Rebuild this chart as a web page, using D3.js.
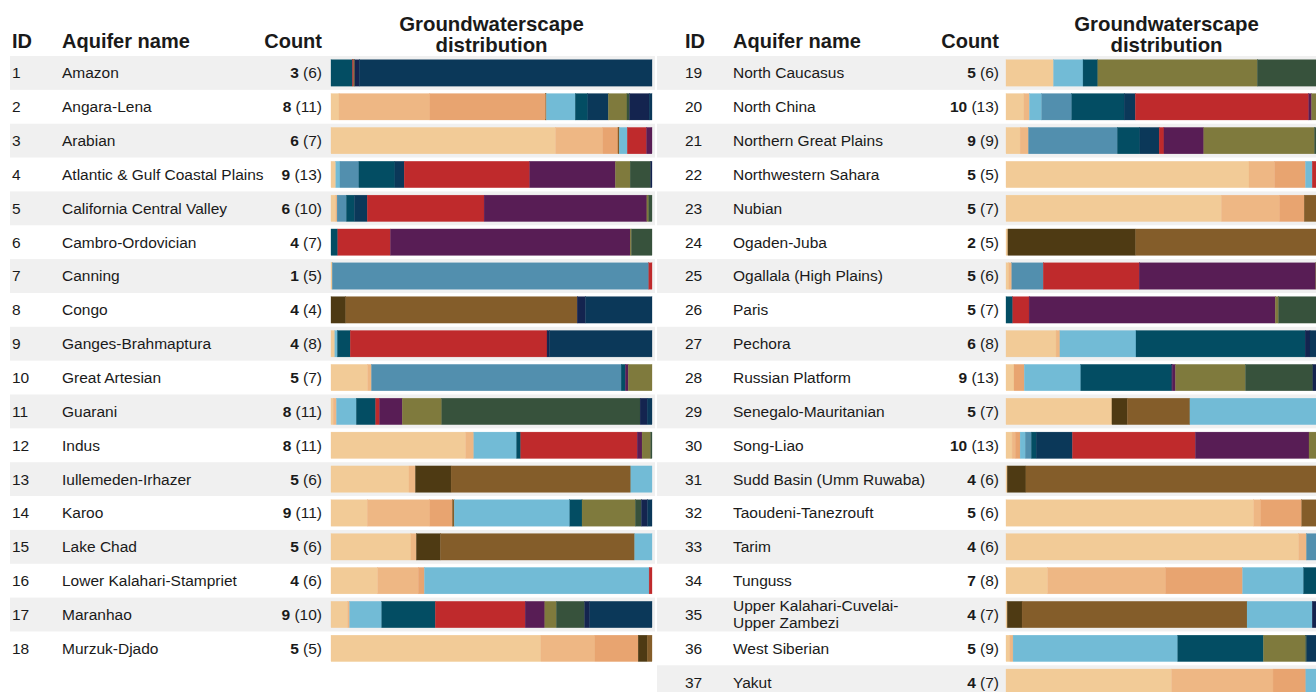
<!DOCTYPE html>
<html>
<head>
<meta charset="utf-8">
<script src="https://cdn.jsdelivr.net/npm/d3@7"></script>
<style>
  body { margin: 0; background: #fff; overflow: hidden; }
  text { font-family: "Liberation Sans", Arial, sans-serif; fill: #1a1a1a; }
</style>
</head>
<body>
<script>
// aquifer table
var aquiferIds = [1, 2, 3, 4, 5, 6, 7, 8, 9, 10, 11, 12, 13, 14, 15, 16, 17, 18,
                  19, 20, 21, 22, 23, 24, 25, 26, 27, 28, 29, 30, 31, 32, 33, 34, 35, 36, 37];

var aquiferNames = ["Amazon", "Angara-Lena", "Arabian", "Atlantic & Gulf Coastal Plains",
  "California Central Valley", "Cambro-Ordovician", "Canning", "Congo", "Ganges-Brahmaptura",
  "Great Artesian", "Guarani", "Indus", "Iullemeden-Irhazer", "Karoo", "Lake Chad",
  "Lower Kalahari-Stampriet", "Maranhao", "Murzuk-Djado", "North Caucasus", "North China",
  "Northern Great Plains", "Northwestern Sahara", "Nubian", "Ogaden-Juba", "Ogallala (High Plains)",
  "Paris", "Pechora", "Russian Platform", "Senegalo-Mauritanian", "Song-Liao",
  "Sudd Basin (Umm Ruwaba)", "Taoudeni-Tanezrouft", "Tarim", "Tunguss",
  "Upper Kalahari-Cuvelai-Upper Zambezi", "West Siberian", "Yakut"];

// bold count and total count (in brackets)
var mainCounts  = [3, 8, 6, 9, 6, 4, 1, 4, 4, 5, 8, 8, 5, 9, 5, 4, 9, 5,
                   5, 10, 9, 5, 5, 2, 5, 5, 6, 9, 5, 10, 4, 5, 4, 7, 4, 5, 4];
var totalCounts = [6, 11, 7, 13, 10, 7, 5, 4, 8, 7, 11, 11, 6, 11, 6, 6, 10, 5,
                   6, 13, 9, 5, 7, 5, 6, 7, 8, 13, 7, 13, 6, 6, 6, 8, 7, 9, 7];

// groundwaterscape classes
var gwsClasses = ["S", "LO", "O", "DB", "B", "LB", "SB", "T", "D", "R", "P", "OL", "G", "N"];
var gwsColors  = ["#f2cb97", "#eeb784", "#e8a470", "#4e3a13", "#845d2a", "#72bbd6", "#528fae",
                  "#034d63", "#0b3859", "#bf2a2c", "#581d55", "#7f7a3d", "#37523c", "#14244f"];

// share (%) of each groundwaterscape, in bar order
var distribution = [
  [["T",6.7],["R",0.4],["OL",0.3],["N",1.4],["D",91.2]],
  [["S",2.5],["LO",28.3],["O",36.1],["B",0.2],["LB",9.0],["T",3.9],["D",6.4],["OL",5.8],["G",0.8],["N",6.1],["D",0.9]],
  [["S",70.0],["LO",14.7],["O",4.7],["B",0.4],["LB",2.5],["R",6.0],["P",1.7]],
  [["S",1.5],["LB",1.3],["SB",5.9],["T",11.2],["D",2.9],["R",39.1],["P",26.7],["OL",4.6],["G",6.4],["N",0.4]],
  [["S",1.5],["LO",0.4],["SB",2.9],["T",2.5],["D",4.0],["R",36.4],["P",50.7],["OL",0.6],["G",1.0]],
  [["T",2.1],["R",16.4],["P",74.7],["OL",0.4],["G",6.4]],
  [["S",0.4],["SB",98.6],["R",1.0]],
  [["DB",4.6],["B",72.1],["N",2.6],["D",20.7]],
  [["S",1.2],["LB",0.8],["T",4.0],["R",61.3],["N",0.7],["D",32.0]],
  [["S",11.4],["LO",1.2],["SB",77.8],["T",1.3],["P",0.9],["OL",7.4]],
  [["S",0.7],["LO",1.0],["LB",6.2],["T",6.0],["R",1.2],["P",7.1],["OL",12.3],["G",61.8],["N",2.2],["D",1.5]],
  [["S",41.9],["LO",2.6],["LB",13.3],["T",1.3],["R",36.3],["P",1.5],["OL",2.7],["G",0.4]],
  [["S",24.3],["LO",2.0],["DB",11.1],["B",56.0],["LB",6.6]],
  [["S",11.3],["LO",19.5],["O",7.0],["B",0.6],["LB",36.0],["T",3.8],["OL",16.6],["G",1.9],["N",1.9],["D",1.4]],
  [["S",24.9],["LO",1.7],["DB",7.5],["B",60.5],["LB",5.4]],
  [["S",14.5],["LO",12.7],["O",1.9],["LB",70.0],["R",0.9]],
  [["S",5.2],["LO",0.6],["LB",10.0],["T",16.7],["R",28.0],["P",6.1],["OL",3.6],["G",8.8],["N",1.6],["D",19.4]],
  [["S",65.4],["LO",16.8],["O",13.5],["DB",2.8],["B",1.5]],
  [["S",14.8],["LB",9.2],["T",4.6],["OL",49.7],["G",20.5],["N",1.2]],
  [["S",5.6],["LO",1.7],["LB",3.8],["SB",9.4],["T",16.3],["D",3.5],["R",54.0],["P",0.9],["OL",2.5],["G",1.3],["N",0.5],["D",0.5]],
  [["S",4.4],["LO",2.6],["SB",27.7],["T",7.0],["D",6.0],["R",1.5],["P",12.4],["OL",34.5],["G",3.9]],
  [["S",75.7],["LO",8.0],["O",9.6],["LB",2.1],["R",2.6],["P",2.0]],
  [["S",67.1],["LO",18.2],["O",7.6],["B",5.0],["LB",2.1]],
  [["S",0.6],["DB",39.8],["B",58.6],["LB",1.0]],
  [["S",0.9],["LO",0.9],["SB",9.8],["R",29.9],["P",55.0],["OL",2.5],["G",1.0]],
  [["T",2.1],["R",5.1],["P",76.7],["OL",1.0],["G",13.0],["N",1.0],["D",1.1]],
  [["S",15.6],["LO",1.2],["LB",23.7],["T",52.7],["N",1.5],["D",5.3]],
  [["S",2.5],["O",3.2],["LB",17.6],["T",28.2],["N",0.3],["P",1.0],["OL",21.8],["G",21.0],["N",2.0],["D",2.4]],
  [["S",33.0],["DB",4.8],["B",19.5],["LB",40.0],["T",2.7]],
  [["S",1.9],["LO",1.0],["O",1.5],["LB",1.6],["SB",1.9],["T",1.5],["D",11.3],["R",38.3],["P",35.4],["OL",4.0],["G",1.6]],
  [["S",0.4],["DB",5.8],["B",92.0],["LB",1.8]],
  [["S",77.2],["LO",2.2],["O",12.7],["B",6.0],["LB",1.9]],
  [["S",91.2],["LO",2.4],["SB",4.0],["T",2.4]],
  [["S",13.0],["LO",36.8],["O",23.9],["LB",19.0],["T",4.0],["N",1.5],["D",1.8]],
  [["S",0.4],["DB",4.6],["B",70.1],["LB",20.3],["N",4.6]],
  [["S",1.2],["LO",1.0],["LB",51.3],["T",26.7],["OL",13.1],["G",0.4],["D",6.3]],
  [["S",51.6],["LO",31.6],["O",10.2],["LB",6.6]]
];

var width = 1316, height = 692;

var svg = d3.select("body").append("svg")
    .attr("width", width)
    .attr("height", height);

var color = d3.scaleOrdinal().domain(gwsClasses).range(gwsColors);

// two panels side by side
var panels = [
  {start: 0,  end: 18, bandX0: 10,  bandX1: 655,  idX: 12,  nameX: 62,  countX: 322, barX: 331},
  {start: 18, end: 37, bandX0: 657, bandX1: 1316, idX: 685, nameX: 733, countX: 999, barX: 1006}
];

var barW = 321;
var top0 = 56;
var x = d3.scaleLinear().domain([0, 100]).range([0, barW]);

// row positions (same for both panels)
var y = d3.scaleBand()
    .domain(d3.range(19))
    .range([top0, top0 + 19 * 33.85])
    .paddingInner(0.22)
    .paddingOuter(0.11);
var step = y.step();

panels.forEach(function(p) {
  var g = svg.append("g");

  // header
  g.append("text").attr("x", p.idX).attr("y", 48)
    .attr("font-size", 20).attr("font-weight", "bold").text("ID");
  g.append("text").attr("x", p.nameX).attr("y", 48)
    .attr("font-size", 20).attr("font-weight", "bold").text("Aquifer name");
  g.append("text").attr("x", p.countX).attr("y", 48)
    .attr("text-anchor", "end")
    .attr("font-size", 20).attr("font-weight", "bold").text("Count");
  var head = g.append("text")
    .attr("text-anchor", "middle")
    .attr("font-size", 20.4).attr("font-weight", "bold");
  head.append("tspan").attr("x", p.barX + barW / 2).attr("y", 31).text("Groundwaterscape");
  head.append("tspan").attr("x", p.barX + barW / 2).attr("y", 52).text("distribution");

  var rows = d3.range(p.start, p.end);

  var row = g.selectAll(".row")
    .data(rows)
    .enter().append("g")
      .attr("class", "row")
      .attr("transform", function(d, i) { return "translate(0," + (top0 + i * step) + ")"; });

  // zebra band
  row.filter(function(d, i) { return i % 2 == 0; })
    .append("rect")
      .attr("x", p.bandX0)
      .attr("width", p.bandX1 - p.bandX0)
      .attr("height", step)
      .attr("fill", "#f0f0f0");

  var mid = step / 2 + 5.4;

  row.append("text")
    .attr("x", p.idX).attr("y", mid)
    .attr("font-size", 15.5)
    .text(function(d) { return aquiferIds[d]; });

  row.append("text")
    .attr("x", p.nameX).attr("y", mid)
    .attr("font-size", 15.5)
    .each(function(d) {
      var t = d3.select(this), name = aquiferNames[d];
      t.text(name);
      // wrap long names after the last hyphen
      if (this.getComputedTextLength() > p.countX - p.nameX - 45) {
        var cut = name.lastIndexOf("-", name.length - 2) + 1;
        t.text(null);
        t.append("tspan").attr("x", p.nameX).attr("y", mid - 8.5).text(name.slice(0, cut));
        t.append("tspan").attr("x", p.nameX).attr("y", mid + 8.5).text(name.slice(cut));
      }
    });

  var cnt = row.append("text")
    .attr("x", p.countX).attr("y", mid)
    .attr("text-anchor", "end")
    .attr("font-size", 15.5);
  cnt.append("tspan").attr("font-weight", "bold").text(function(d) { return mainCounts[d]; });
  cnt.append("tspan").text(function(d) { return " (" + totalCounts[d] + ")"; });

  // stacked bar
  var bar = row.append("g")
    .attr("transform", function(d, i) { return "translate(" + p.barX + "," + (y(i) - top0 - i * step) + ")"; });

  bar.selectAll("rect")
    .data(function(d) {
      var acc = 0;
      return distribution[d].map(function(s) {
        var seg = {cls: s[0], x0: acc, x1: acc + s[1]};
        acc += s[1];
        return seg;
      });
    })
    .enter().append("rect")
      .attr("x", function(s) { return x(s.x0); })
      .attr("width", function(s) { return x(s.x1) - x(s.x0); })
      .attr("height", y.bandwidth())
      .attr("fill", function(s) { return color(s.cls); })
      .attr("stroke", function(s) { return color(s.cls); })
      .attr("stroke-width", 0.3);
});
</script>
</body>
</html>
